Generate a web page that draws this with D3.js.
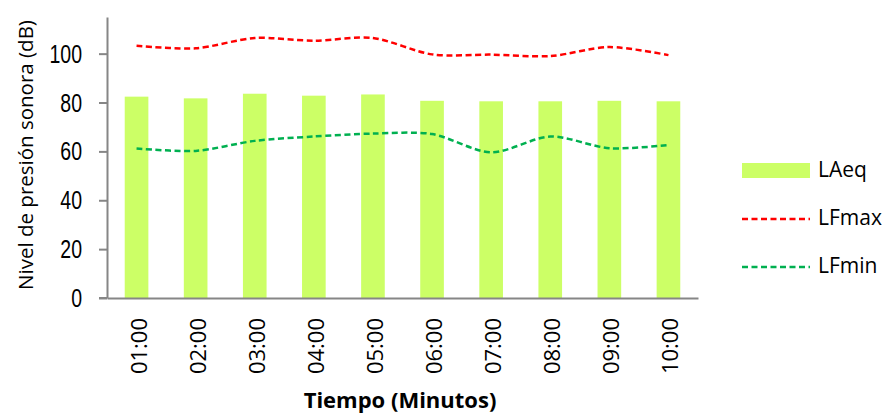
<!DOCTYPE html>
<html>
<head>
<meta charset="utf-8">
<script src="https://cdn.jsdelivr.net/npm/d3@7"></script>
<style>
  html, body { margin: 0; padding: 0; background: #ffffff; }
  svg { display: block; }
</style>
</head>
<body>
<svg id="chart" width="889" height="413"></svg>
<script>
const categories = ["01:00","02:00","03:00","04:00","05:00","06:00","07:00","08:00","09:00","10:00"];
const LAeq  = [82.4, 81.7, 83.6, 82.8, 83.3, 80.7, 80.5, 80.5, 80.7, 80.5];
const LFmax = [103.2, 102.2, 106.4, 105.3, 106.4, 99.7, 99.6, 99.0, 102.7, 99.4];
const LFmin = [61.2, 60.2, 64.3, 66.1, 67.3, 67.1, 59.6, 66.1, 61.3, 62.6];
const yTicks = [0, 20, 40, 60, 80, 100];
const seriesNames = ["LAeq", "LFmax", "LFmin"];

const svg = d3.select("#chart");
const axisColor = "#868686";
const barColor = "#CCFF66";
const redColor = "#FF0000";
const greenColor = "#00B050";

const x = d3.scaleBand().domain(categories).range([107, 698]).paddingInner(0.6).paddingOuter(0.3);
const y = d3.scaleLinear().domain([0, 115]).range([298, 17]);

// bars
svg.append("g").selectAll("rect").data(LAeq).join("rect")
  .attr("x", (d, i) => x(categories[i]))
  .attr("y", d => y(d))
  .attr("width", x.bandwidth())
  .attr("height", d => y(0) - y(d))
  .attr("fill", barColor);

// lines
const line = d3.line()
  .x((d, i) => x(categories[i]) + x.bandwidth() / 2)
  .y(d => y(d))
  .curve(d3.curveCardinal.tension(0.15));

svg.append("path").datum(LFmax)
  .attr("d", line).attr("fill", "none")
  .attr("stroke", redColor).attr("stroke-width", 2.5)
  .attr("stroke-dasharray", "6,3.5");

svg.append("path").datum(LFmin)
  .attr("d", line).attr("fill", "none")
  .attr("stroke", greenColor).attr("stroke-width", 2.5)
  .attr("stroke-dasharray", "6,3.5");

// y axis
const yAxis = d3.axisLeft(y).tickValues(yTicks).tickSize(8).tickSizeOuter(0).tickFormat("");
const gy = svg.append("g").attr("transform", "translate(107,0)").call(yAxis);
gy.select(".domain").attr("stroke", axisColor).attr("stroke-width", 2);
gy.selectAll(".tick line").attr("stroke", axisColor).attr("stroke-width", 2);

svg.append("g").selectAll("g").data(yTicks).join("g")
  .attr("transform", d => `translate(82,${y(d)}) scale(0.78,1)`)
  .append("text")
  .attr("text-anchor", "end")
  .attr("dy", "0.36em")
  .attr("font-family", "'Liberation Sans', Arial, sans-serif")
  .attr("font-size", 25)
  .attr("fill", "#000")
  .text(d => d);

// x axis
const xAxis = d3.axisBottom(x).tickSize(0).tickSizeOuter(0).tickFormat("");
const gx = svg.append("g").attr("transform", `translate(0,${y(0)})`).call(xAxis);
gx.select(".domain").attr("stroke", axisColor).attr("stroke-width", 2);
svg.append("line").attr("x1", 99).attr("x2", 107).attr("y1", y(0)).attr("y2", y(0))
  .attr("stroke", axisColor).attr("stroke-width", 2);

svg.append("g").selectAll("text").data(categories).join("text")
  .attr("transform", d => `translate(${x(d) + x.bandwidth() / 2 + 10},318) rotate(-90)`)
  .attr("text-anchor", "end")
  .attr("font-family", "'Open Sans', sans-serif")
  .attr("font-size", 22)
  .attr("fill", "#000")
  .text(d => d);

// axis titles
svg.append("text")
  .attr("x", 400).attr("y", 408)
  .attr("text-anchor", "middle")
  .attr("font-family", "'Open Sans', sans-serif")
  .attr("font-weight", "bold")
  .attr("font-size", 22)
  .attr("fill", "#000")
  .text("Tiempo (Minutos)");

svg.append("text")
  .attr("transform", "translate(33,155) rotate(-90)")
  .attr("text-anchor", "middle")
  .attr("font-family", "'Open Sans', sans-serif")
  .attr("font-size", 20.5)
  .attr("fill", "#000")
  .text("Nivel de presión sonora (dB)");

// legend
const legend = svg.append("g");
legend.append("rect").attr("x", 742).attr("y", 163).attr("width", 68).attr("height", 15).attr("fill", barColor);
legend.append("line").attr("x1", 742).attr("x2", 810).attr("y1", 219).attr("y2", 219)
  .attr("stroke", redColor).attr("stroke-width", 2.5).attr("stroke-dasharray", "6,3.5");
legend.append("line").attr("x1", 742).attr("x2", 810).attr("y1", 267).attr("y2", 267)
  .attr("stroke", greenColor).attr("stroke-width", 2.5).attr("stroke-dasharray", "6,3.5");
legend.selectAll("text").data(seriesNames).join("text")
  .attr("x", 818)
  .attr("y", (d, i) => 177 + i * 48)
  .attr("font-family", "'Open Sans', sans-serif")
  .attr("font-size", 21)
  .attr("fill", "#000")
  .text(d => d);
</script>
</body>
</html>
